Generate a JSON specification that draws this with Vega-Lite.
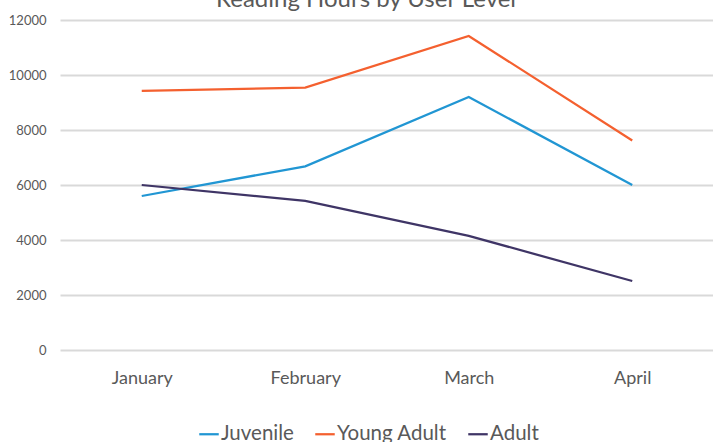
{
  "$schema": "https://vega.github.io/schema/vega-lite/v6.json",
  "width": 654,
  "height": 330,
  "autosize": "none",
  "padding": {"left": 60, "top": 20, "right": 0, "bottom": 92},
  "background": "white",
  "title": {"text": "Reading Hours by User Level", "fontSize": 24, "font": "Lato", "fontWeight": "normal", "color": "#595959", "anchor": "middle", "dx": -21, "offset": 2},
  "config": {"view": {"stroke": null}, "font": "Lato"},
  "data": {"values": [
    {"month": "January", "series": "Juvenile", "hours": 5600},
    {"month": "February", "series": "Juvenile", "hours": 6680},
    {"month": "March", "series": "Juvenile", "hours": 9200},
    {"month": "April", "series": "Juvenile", "hours": 6000},
    {"month": "January", "series": "Young Adult", "hours": 9420},
    {"month": "February", "series": "Young Adult", "hours": 9540},
    {"month": "March", "series": "Young Adult", "hours": 11420},
    {"month": "April", "series": "Young Adult", "hours": 7620},
    {"month": "January", "series": "Adult", "hours": 6000},
    {"month": "February", "series": "Adult", "hours": 5420},
    {"month": "March", "series": "Adult", "hours": 4150},
    {"month": "April", "series": "Adult", "hours": 2510}
  ]},
  "mark": {"type": "line", "strokeWidth": 2.25},
  "encoding": {
    "x": {"field": "month", "type": "nominal", "sort": ["January", "February", "March", "April"], "scale": {"paddingInner": 0, "paddingOuter": 0.5},
      "axis": {"title": null, "labelAngle": 0, "labelFontSize": 18, "labelColor": "#595959", "labelPadding": 19, "ticks": false, "domain": false, "grid": false}},
    "y": {"field": "hours", "type": "quantitative", "scale": {"domain": [0, 12000], "nice": false},
      "axis": {"title": null, "values": [0, 2000, 4000, 6000, 8000, 10000, 12000], "format": "d", "labelFontSize": 13, "labelColor": "#595959", "labelPadding": 14, "ticks": false, "domain": false, "gridColor": "#d9d9d9", "gridWidth": 2}},
    "color": {"field": "series", "type": "nominal", "sort": ["Juvenile", "Young Adult", "Adult"],
      "scale": {"domain": ["Juvenile", "Young Adult", "Adult"], "range": ["#2196d3", "#f4602f", "#3f3566"]},
      "legend": {"title": null, "orient": "none", "direction": "horizontal", "legendX": 138, "legendY": 403, "symbolType": "stroke", "symbolSize": 380, "symbolStrokeWidth": 2.25, "labelFontSize": 20.5, "labelColor": "#595959", "labelOffset": 1, "columnPadding": 16}}
  }
}
